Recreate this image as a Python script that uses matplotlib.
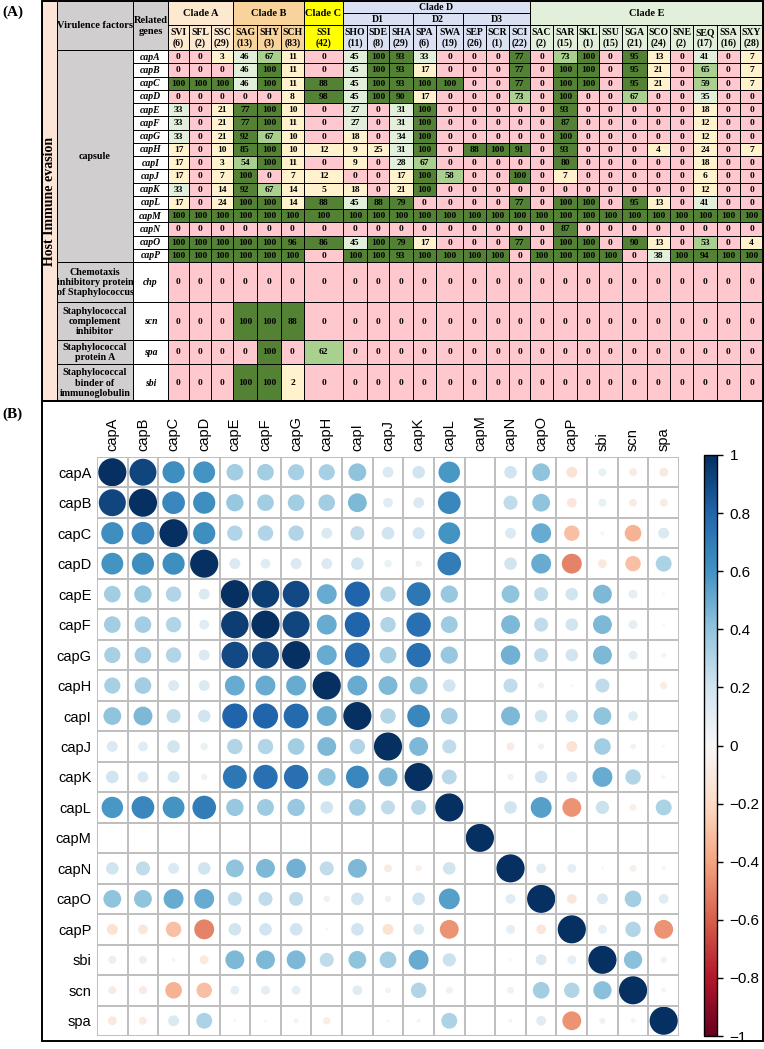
import numpy as np
import matplotlib as mpl
import matplotlib.pyplot as plt
from matplotlib.patches import Rectangle, Circle
from matplotlib.colors import Normalize

# ---------------- data: panel A table ----------------
species = ["SVI", "SFL", "SSC", "SAG", "SHY", "SCH", "SSI", "SHO", "SDE", "SHA",
           "SPA", "SWA", "SEP", "SCR", "SCI", "SAC", "SAR", "SKL", "SSU", "SGA",
           "SCO", "SNE", "SEQ", "SSA", "SXY"]
counts = [6, 2, 29, 13, 3, 83, 42, 11, 8, 29, 6, 19, 26, 1, 22, 2, 15, 1, 15, 21,
          24, 2, 17, 16, 28]
clades = ["Clade A", "Clade B", "Clade C", "Clade D", "Clade E"]
clade_sizes = [3, 3, 1, 8, 10]
subclades = ["D1", "D2", "D3"]
subclade_sizes = [3, 2, 3]

factors = ["capsule", "Chemotaxis\ninhibitory protein\nof Staphylococcus",
           "Staphylococcal\ncomplement\ninhibitor", "Staphylococcal\nprotein A",
           "Staphylococcal\nbinder of\nimmunoglobulin"]
factor_nrows = [16, 1, 1, 1, 1]
genes = ["capA", "capB", "capC", "capD", "capE", "capF", "capG", "capH", "capI",
         "capJ", "capK", "capL", "capM", "capN", "capO", "capP",
         "chp", "scn", "spa", "sbi"]

capA = [0, 0, 3, 46, 67, 11, 0, 45, 100, 93, 33, 0, 0, 0, 77, 0, 73, 100, 0, 95, 13, 0, 41, 0, 7]
capB = [0, 0, 0, 46, 100, 11, 0, 45, 100, 93, 17, 0, 0, 0, 77, 0, 100, 100, 0, 95, 21, 0, 65, 0, 7]
capC = [100, 100, 100, 46, 100, 11, 88, 45, 100, 93, 100, 100, 0, 0, 77, 0, 100, 100, 0, 95, 21, 0, 59, 0, 7]
capD = [0, 0, 0, 0, 0, 8, 98, 45, 100, 90, 17, 0, 0, 0, 73, 0, 100, 0, 0, 67, 0, 0, 35, 0, 0]
capE = [33, 0, 21, 77, 100, 10, 0, 27, 0, 31, 100, 0, 0, 0, 0, 0, 93, 0, 0, 0, 0, 0, 18, 0, 0]
capF = [33, 0, 21, 77, 100, 11, 0, 27, 0, 31, 100, 0, 0, 0, 0, 0, 87, 0, 0, 0, 0, 0, 12, 0, 0]
capG = [33, 0, 21, 92, 67, 10, 0, 18, 0, 34, 100, 0, 0, 0, 0, 0, 100, 0, 0, 0, 0, 0, 12, 0, 0]
capH = [17, 0, 10, 85, 100, 10, 12, 9, 25, 31, 100, 0, 88, 100, 91, 0, 93, 0, 0, 0, 4, 0, 24, 0, 7]
capI = [17, 0, 3, 54, 100, 11, 0, 9, 0, 28, 67, 0, 0, 0, 0, 0, 80, 0, 0, 0, 0, 0, 18, 0, 0]
capJ = [17, 0, 7, 100, 0, 7, 12, 0, 0, 17, 100, 58, 0, 0, 100, 0, 7, 0, 0, 0, 0, 0, 6, 0, 0]
capK = [33, 0, 14, 92, 67, 14, 5, 18, 0, 21, 100, 0, 0, 0, 0, 0, 0, 0, 0, 0, 0, 0, 12, 0, 0]
capL = [17, 0, 24, 100, 100, 14, 88, 45, 88, 79, 0, 0, 0, 0, 77, 0, 100, 100, 0, 95, 13, 0, 41, 0, 0]
capM = [100] * 25
capN = [0, 0, 0, 0, 0, 0, 0, 0, 0, 0, 0, 0, 0, 0, 0, 0, 87, 0, 0, 0, 0, 0, 0, 0, 0]
capO = [100, 100, 100, 100, 100, 96, 86, 45, 100, 79, 17, 0, 0, 0, 77, 0, 100, 100, 0, 90, 13, 0, 53, 0, 4]
capP = [100, 100, 100, 100, 100, 100, 0, 100, 100, 93, 100, 100, 100, 100, 0, 100, 100, 100, 100, 0, 38, 100, 94, 100, 100]
chp = [0] * 25
scn = [0, 0, 0, 100, 100, 88, 0, 0, 0, 0, 0, 0, 0, 0, 0, 0, 0, 0, 0, 0, 0, 0, 0, 0, 0]
spa = [0, 0, 0, 0, 100, 0, 62, 0, 0, 0, 0, 0, 0, 0, 0, 0, 0, 0, 0, 0, 0, 0, 0, 0, 0]
sbi = [0, 0, 0, 100, 100, 2, 0, 0, 0, 0, 0, 0, 0, 0, 0, 0, 0, 0, 0, 0, 0, 0, 0, 0, 0]
table_values = [capA, capB, capC, capD, capE, capF, capG, capH, capI, capJ, capK,
                capL, capM, capN, capO, capP, chp, scn, spa, sbi]

# ---------------- data: panel B correlations (lower triangle) ----------------
nan = np.nan
corr_labels = ["capA", "capB", "capC", "capD", "capE", "capF", "capG", "capH",
               "capI", "capJ", "capK", "capL", "capM", "capN", "capO", "capP",
               "sbi", "scn", "spa"]
corr_lower = [
    [],
    [0.92],
    [0.62, 0.65],
    [0.60, 0.62, 0.62],
    [0.35, 0.38, 0.30, 0.15],
    [0.35, 0.35, 0.30, 0.12, 0.95],
    [0.33, 0.35, 0.30, 0.15, 0.90, 0.92],
    [0.33, 0.35, 0.15, 0.15, 0.50, 0.50, 0.50],
    [0.40, 0.45, 0.25, 0.20, 0.80, 0.80, 0.78, 0.50],
    [0.15, 0.12, 0.20, 0.07, 0.30, 0.30, 0.35, 0.45, 0.30],
    [0.20, 0.15, 0.18, 0.05, 0.72, 0.75, 0.75, 0.40, 0.65, 0.45],
    [0.58, 0.65, 0.60, 0.70, 0.38, 0.36, 0.38, 0.20, 0.35, 0.25, 0.28],
    [nan] * 12,
    [0.20, 0.25, 0.15, 0.20, 0.40, 0.45, 0.48, 0.25, 0.45, -0.08, -0.05, 0.20, nan],
    [0.40, 0.40, 0.50, 0.50, 0.25, 0.25, 0.25, 0.05, 0.20, 0.05, 0.20, 0.55, nan, 0.12],
    [-0.15, -0.12, -0.30, -0.50, 0.20, 0.20, 0.20, 0.01, 0.20, -0.15, 0.15, -0.45, nan, 0.10, -0.12],
    [0.08, 0.08, 0.02, -0.10, 0.45, 0.45, 0.45, 0.25, 0.40, 0.35, 0.50, 0.22, nan, 0.01, 0.15, 0.10],
    [-0.08, -0.08, -0.35, -0.30, 0.10, 0.10, 0.10, 0.00, 0.12, 0.04, 0.30, -0.06, nan, -0.06, 0.35, 0.30, 0.42],
    [-0.10, -0.08, 0.15, 0.32, 0.01, 0.01, -0.03, -0.07, 0.00, 0.01, -0.02, 0.32, nan, -0.02, 0.12, -0.45, 0.05, -0.03],
]
cbar_ticks = [1, 0.8, 0.6, 0.4, 0.2, 0, -0.2, -0.4, -0.6, -0.8, -1]

# ---------------- styling ----------------
serif = "Liberation Serif"
sans = "Liberation Sans"
clade_colors = ["#FDE9CF", "#F8D49C", "#FFFF00", "#D9E1F2", "#E2EFDA"]
gray = "#D0CECE"
host_color = "#FCE4D6"


def value_color(v):
    if v == 0:
        return "#FFC7CE"
    if v <= 25:
        return "#FFF2CC"
    if v <= 50:
        return "#E2EFDA"
    if v <= 75:
        return "#A9D08E"
    return "#548235"


fig = plt.figure(figsize=(7.64, 10.49), dpi=100)

# pixel overlay for the table and frames
pax = fig.add_axes([0, 0, 1, 1])
pax.set_xlim(0, 764)
pax.set_ylim(1049, 0)
pax.axis("off")


def cell(x0, x1, y0, y1, fc, txt="", size=6.5, style="normal", rot=0, lw=0.7):
    pax.add_patch(Rectangle((x0, y0), x1 - x0, y1 - y0, facecolor=fc,
                            edgecolor="k", lw=lw))
    if txt != "":
        pax.text((x0 + x1) / 2, (y0 + y1) / 2 + 0.5, txt, ha="center", va="center",
                 fontsize=size, fontweight="bold", style=style, family=serif,
                 rotation=rot, linespacing=1.15)


# column edges (pixels)
col_w = [21, 22, 22, 24, 24, 23, 39, 24, 22, 24, 23, 27, 23, 23, 21, 23, 24, 22,
         23, 25, 23, 23, 24, 23, 23]
xs = np.concatenate([[168], 168 + np.cumsum(col_w)])
row_h = [13.25] * 16 + [40, 38, 24, 37]
ys = np.concatenate([[50], 50 + np.cumsum(row_h)])
top, h1, h2 = 1, 25, 50

# header
cell(42, 57, top, ys[-1], host_color, "Host Immune evasion", size=10, rot=90)
cell(57, 133, top, h2, gray, "Virulence factors", size=7.5)
cell(133, 168, top, h2, gray, "Related\ngenes", size=7.5)

start = 0
for name, n, col in zip(clades, clade_sizes, clade_colors):
    x0, x1 = xs[start], xs[start + n]
    if name == "Clade D":
        cell(x0, x1, top, 12.5, col, name, size=7)
        s = start
        for sub, m in zip(subclades, subclade_sizes):
            cell(xs[s], xs[s + m], 12.5, h1, col, sub, size=7)
            s += m
    else:
        cell(x0, x1, top, h1, col, name, size=7.5)
    for i in range(start, start + n):
        cell(xs[i], xs[i + 1], h1, h2, col, f"{species[i]}\n({counts[i]})", size=7)
    start += n

# body
r = 0
for fac, n in zip(factors, factor_nrows):
    cell(57, 133, ys[r], ys[r + n], gray, fac, size=7.2)
    r += n

for gi, (g, vals) in enumerate(zip(genes, table_values)):
    cell(133, 168, ys[gi], ys[gi + 1], "white", g, size=7, style="italic")
    for j, v in enumerate(vals):
        cell(xs[j], xs[j + 1], ys[gi], ys[gi + 1], value_color(v), str(v), size=6.8)

# outer frames
pax.add_patch(Rectangle((42, top), 721, ys[-1] - top, fill=False, edgecolor="k", lw=1.4))
pax.add_patch(Rectangle((42, ys[-1]), 721, 1041 - ys[-1], fill=False, edgecolor="k", lw=1.4))
pax.text(2, 12, "(A)", fontsize=11, fontweight="bold", family=serif, va="center")
pax.text(2, 414, "(B)", fontsize=11, fontweight="bold", family=serif, va="center")

# ---------------- panel B: corrplot ----------------
n = len(corr_labels)
corr = np.eye(n)
for i, row in enumerate(corr_lower):
    for j, v in enumerate(row):
        corr[i, j] = v
        corr[j, i] = v

cmap = plt.get_cmap("RdBu")
norm = Normalize(-1, 1)

ax = fig.add_axes([97 / 764, 1 - 1036 / 1049, 582 / 764, 579 / 1049])
ax.set_xlim(0, n)
ax.set_ylim(n, 0)
for i in range(n):
    for j in range(n):
        v = corr[i, j]
        if np.isnan(v):
            continue
        rad = 0.46 * np.sqrt(abs(v))
        ax.add_patch(Circle((j + 0.5, i + 0.5), rad, facecolor=cmap(norm(v)),
                            edgecolor="none", zorder=2))
for k in range(n + 1):
    ax.axhline(k, color="#BEBEBE", lw=1.4, zorder=3)
    ax.axvline(k, color="#BEBEBE", lw=1.4, zorder=3)
for s in ax.spines.values():
    s.set_visible(False)
ax.set_xticks(np.arange(n) + 0.5)
ax.set_xticklabels(corr_labels, rotation=90, family=sans, fontsize=10.5)
ax.set_yticks(np.arange(n) + 0.5)
ax.set_yticklabels(corr_labels, family=sans, fontsize=10.5)
ax.tick_params(length=0, labeltop=True, labelbottom=False, pad=4)

cax = fig.add_axes([704 / 764, 1 - 1036 / 1049, 13 / 764, 581 / 1049])
cb = mpl.colorbar.ColorbarBase(cax, cmap=cmap, norm=norm, ticks=cbar_ticks)
cb.ax.set_yticklabels([f"{t:g}".replace("-", "\u2212") for t in cbar_ticks],
                      family=sans, fontsize=11)
cb.ax.tick_params(length=4, width=1, pad=5)
cb.outline.set_linewidth(1)

fig.savefig("out.png", dpi=100)
